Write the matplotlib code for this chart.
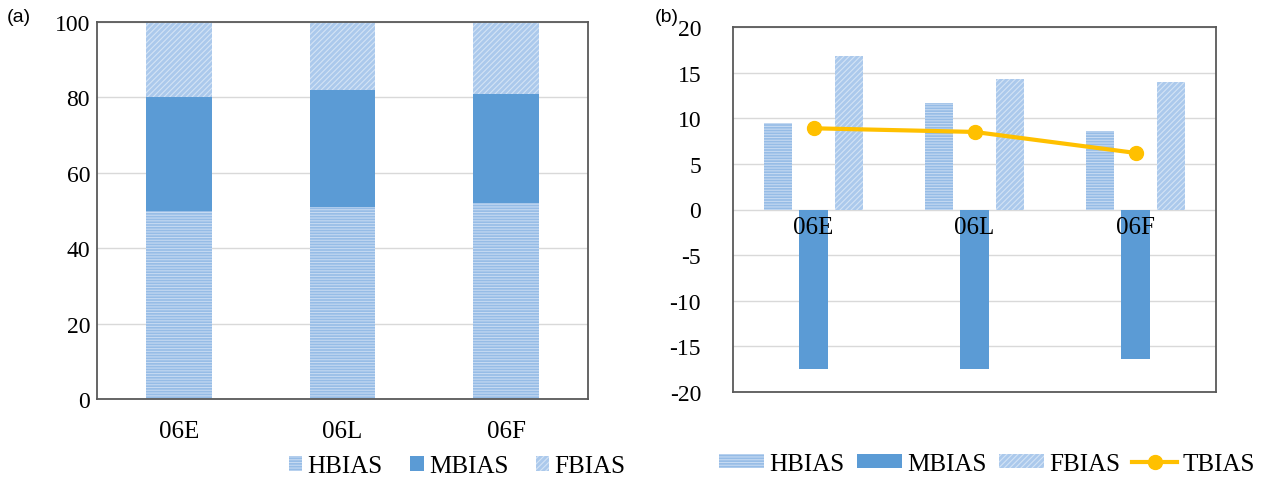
import matplotlib
matplotlib.use("Agg")
import matplotlib.pyplot as plt
import numpy as np

# ---- data ----
categories = ["06E", "06L", "06F"]

# (a) share of each bias component (%)
share_h = [50, 51, 52]
share_m = [30, 31, 29]
share_f = [20, 18, 19]

# (b) bias components and total bias
hbias = [9.5, 11.7, 8.6]
mbias = [-17.5, -17.5, -16.4]
fbias = [16.8, 14.3, 14.0]
tbias = [8.9, 8.5, 6.2]

yticks_a = [0, 20, 40, 60, 80, 100]
yticks_b = [-20, -15, -10, -5, 0, 5, 10, 15, 20]

# ---- styles ----
BLUE = "#5B9BD5"
H_FACE, H_HATCH = "#96BCE6", "#C6DAF2"
F_FACE, F_HATCH = "#ABC9EC", "#D3E3F5"
GOLD = "#FFC000"
GRID = "#D9D9D9"
FRAME = "#595959"
SERIF = "Liberation Serif"

plt.rcParams["hatch.linewidth"] = 0.8

fig = plt.figure(figsize=(12.72, 4.81), dpi=100)

def frame(ax):
    for s in ax.spines.values():
        s.set_color(FRAME)
        s.set_linewidth(1.3)
    ax.set_axisbelow(True)
    ax.yaxis.grid(True, color=GRID, linewidth=1.0)
    ax.tick_params(length=0)
    for lab in ax.get_yticklabels() + ax.get_xticklabels():
        lab.set_fontfamily(SERIF)

# ---- (a) stacked columns ----
ax1 = fig.add_axes([97 / 1272, 81 / 481, 491 / 1272, 377 / 481])
x = np.arange(len(categories))
w = 0.4
bot_m = np.array(share_h)
bot_f = bot_m + np.array(share_m)
ax1.bar(x, share_h, w, color=H_FACE, edgecolor=H_HATCH, linewidth=0,
        hatch="------", label="HBIAS")
ax1.bar(x, share_m, w, bottom=bot_m, color=BLUE, linewidth=0, label="MBIAS")
ax1.bar(x, share_f, w, bottom=bot_f, color=F_FACE, edgecolor=F_HATCH,
        linewidth=0, hatch="//////", label="FBIAS")
ax1.set_xlim(-0.5, 2.5)
ax1.set_ylim(0, 100)
ax1.set_yticks(yticks_a)
ax1.set_yticklabels([str(v) for v in yticks_a], fontsize=17)
ax1.set_xticks(x)
ax1.set_xticklabels(categories, fontsize=18)
ax1.tick_params(axis="y", pad=5)
ax1.tick_params(axis="x", pad=15)
frame(ax1)
fig.text(7 / 1272, 1 - 18 / 481, "(a)", fontsize=14, family="Liberation Sans",
         va="center", ha="left")
fig.legend(*ax1.get_legend_handles_labels(), loc="center",
           bbox_to_anchor=(457 / 1272, 14 / 481), ncol=3, frameon=False,
           prop={"family": SERIF, "size": 18}, handlelength=0.55,
           handleheight=0.55, handletextpad=0.2, columnspacing=1.1)

# ---- (b) clustered columns + line ----
ax2 = fig.add_axes([733 / 1272, 88 / 481, 483 / 1272, 365 / 481])
off = 0.22
bw = 0.175
hb = ax2.bar(x - off, hbias, bw, color=H_FACE, edgecolor=H_HATCH, linewidth=0,
             hatch="------", label="HBIAS")
mb = ax2.bar(x, mbias, bw, color=BLUE, linewidth=0, label="MBIAS")
fb = ax2.bar(x + off, fbias, bw, color=F_FACE, edgecolor=F_HATCH, linewidth=0,
             hatch="//////", label="FBIAS")
tl, = ax2.plot(x, tbias, color=GOLD, linewidth=3, marker="o", markersize=10,
               label="TBIAS", zorder=5)
ax2.set_xlim(-0.5, 2.5)
ax2.set_ylim(-20, 20)
ax2.set_yticks(yticks_b)
ax2.set_yticklabels([str(v) for v in yticks_b], fontsize=17)
ax2.set_xticks([])
ax2.tick_params(axis="y", pad=23)
frame(ax2)
for xi, name in zip(x, categories):
    ax2.annotate(name, (xi, 0), xytext=(0, -5), textcoords="offset points",
                 ha="center", va="top", fontsize=18, family=SERIF, zorder=6)
fig.text(655 / 1272, 1 - 18 / 481, "(b)", fontsize=14, family="Liberation Sans",
         va="center", ha="left")
fig.legend([hb, mb, fb, tl], ["HBIAS", "MBIAS", "FBIAS", "TBIAS"],
           loc="center", bbox_to_anchor=(987 / 1272, 16 / 481), ncol=4,
           frameon=False, prop={"family": SERIF, "size": 18},
           handlelength=1.8, handleheight=0.5, handletextpad=0.2,
           columnspacing=0.5, borderpad=0.1, borderaxespad=0)

fig.savefig("out.png", dpi=100)
